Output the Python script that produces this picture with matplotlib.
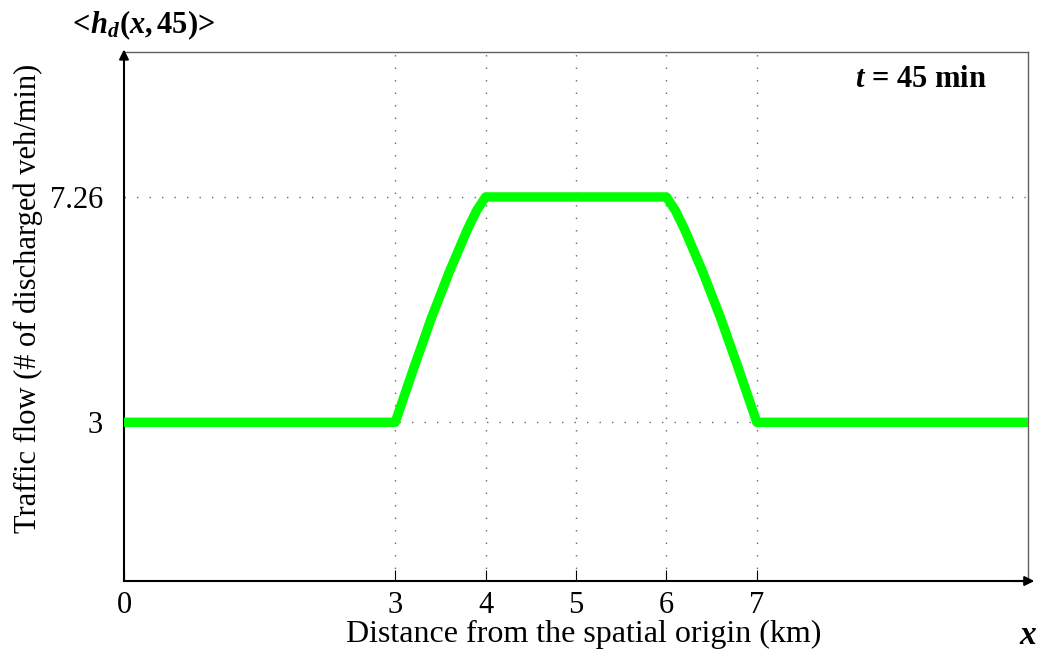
import matplotlib
matplotlib.use("Agg")
import matplotlib.pyplot as plt

plt.rcParams['font.family'] = ['Liberation Serif', 'DejaVu Serif']
plt.rcParams['mathtext.fontset'] = 'custom'
plt.rcParams['mathtext.rm'] = 'Liberation Serif'
plt.rcParams['mathtext.it'] = 'Liberation Serif:italic'
plt.rcParams['mathtext.bf'] = 'Liberation Serif:bold'
plt.rcParams['mathtext.bfit'] = 'Liberation Serif:bold:italic'

# Data
x_km = [0, 3, 3.2, 3.4, 3.6, 3.8, 3.9, 4, 6, 6.1, 6.2, 6.4, 6.6, 6.8, 7, 10]
flow = [3, 3, 4.0, 4.97, 5.85, 6.65, 7.0, 7.26, 7.26, 7.0, 6.65, 5.85, 4.97, 4.0, 3, 3]
x_ticks = [0, 3, 4, 5, 6, 7]
x_tick_labels = ['0', '3', '4', '5', '6', '7']
y_ticks = [3, 7.26]
y_tick_labels = ['3', '7.26']

fig = plt.figure(figsize=(10.42, 6.54), dpi=100)
ax = fig.add_axes([0.119, 0.1116, 0.8676, 0.8089])
ax.set_xlim(0, 10)
ax.set_ylim(0, 10)

ax.plot(x_km, flow, color='#00ff00', lw=6.8, solid_joinstyle='round', zorder=3)

for xv in x_ticks[1:]:
    ax.axvline(xv, color='#6a6a6a', lw=1.0, ls=(0, (1, 8)), zorder=1)
for yv in y_ticks:
    ax.axhline(yv, color='#6a6a6a', lw=1.0, ls=(0, (1, 8)), zorder=1)

ax.set_xticks(x_ticks)
ax.set_xticklabels(x_tick_labels)
ax.set_yticks(y_ticks)
ax.set_yticklabels(y_tick_labels)
ax.tick_params(axis='both', direction='in', length=8, width=0.8, labelsize=22, pad=7)
ax.tick_params(axis='y', length=0, pad=15)

for s in ['top', 'right']:
    ax.spines[s].set_color('#606060')
    ax.spines[s].set_linewidth(1.0)
for s in ['left', 'bottom']:
    ax.spines[s].set_color('black')
    ax.spines[s].set_linewidth(1.5)

# arrows on axes
ax.annotate('', xy=(0, 1.01), xytext=(0, 0.98), xycoords='axes fraction',
            arrowprops=dict(arrowstyle='-|>', color='black', lw=1.5, mutation_scale=14))
ax.annotate('', xy=(1.01, 0), xytext=(0.98, 0), xycoords='axes fraction',
            arrowprops=dict(arrowstyle='-|>', color='black', lw=1.5, mutation_scale=14))

ax.set_xlabel('Distance from the spatial origin (km)', fontsize=23, labelpad=0)
ax.xaxis.set_label_coords(0.509, -0.074)
ax.set_ylabel('Traffic flow (# of discharged veh/min)', fontsize=22, labelpad=8)
ax.yaxis.set_label_coords(-0.09, 0.534)

ax.text(1.0, -0.075, r'$\mathbfit{x}$', transform=ax.transAxes, fontsize=24,
        ha='center', va='top')
fig.text(0.065, 0.962,
         r'$\mathbf{<}\!\mathbfit{h}_{\mathbfit{d}}\mathbf{(}\mathbfit{x}\mathbf{,45)}\!\mathbf{>}$',
         fontsize=22, ha='left', va='center')
ax.text(0.881, 0.948, r'$\mathbfit{t}$' + ' = 45 min', transform=ax.transAxes,
        fontsize=22, fontweight='bold', ha='center', va='center')

fig.savefig('out.png', dpi=100)
